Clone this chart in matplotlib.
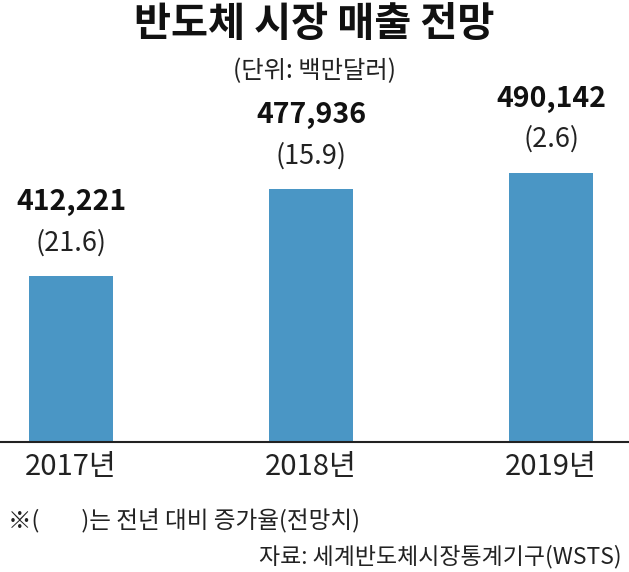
import matplotlib
matplotlib.use("Agg")
import matplotlib.pyplot as plt

plt.rcParams['font.family'] = ['Noto Sans CJK KR', 'DejaVu Sans']

years = ["2017년", "2018년", "2019년"]
sales = [412221, 477936, 490142]
growth = ["(21.6)", "(15.9)", "(2.6)"]

title = "반도체 시장 매출 전망"
unit = "(단위: 백만달러)"
note = "※(        )는 전년 대비 증가율(전망치)"
source = "자료: 세계반도체시장통계기구(WSTS)"

W, H = 629, 572
fig = plt.figure(figsize=(W / 100, H / 100), dpi=100)
base_px = 442
top_px = 100
ax = fig.add_axes([0, (H - base_px) / H, 1, (base_px - top_px) / H])

bar_color = "#4a96c5"
x = list(range(len(years)))
ax.bar(x, sales, width=0.35, color=bar_color)
ax.set_xlim(-0.296, 2.325)
ax.set_ylim(286841, 545154)

for s in ["top", "right", "left"]:
    ax.spines[s].set_visible(False)
ax.spines["bottom"].set_color("#222222")
ax.spines["bottom"].set_linewidth(1.5)
ax.set_yticks([])
ax.set_xticks(x)
ax.set_xticklabels(years, fontsize=21, color="#222222")
ax.tick_params(axis="x", length=0, pad=7)

for xi, v, g in zip(x, sales, growth):
    ax.annotate(f"{v:,}", (xi, v), xytext=(0, 53), textcoords="offset points",
                ha="center", va="center", fontsize=20.5, fontweight="bold", color="#111111")
    ax.annotate(g, (xi, v), xytext=(0, 24), textcoords="offset points",
                ha="center", va="center", fontsize=19.5, color="#222222")

fig.text(0.5, 1 - 25 / H, title, ha="center", va="center", fontsize=29,
         fontweight="bold", color="#111111")
fig.text(0.5, 1 - 71 / H, unit, ha="center", va="center", fontsize=17.5, color="#222222")
fig.text(8 / W, 1 - 521 / H, note, ha="left", va="center", fontsize=17, color="#222222")
fig.text(622 / W, 1 - 557 / H, source, ha="right", va="center", fontsize=16.5, color="#222222")

fig.savefig("out.png", dpi=100, facecolor="white")
